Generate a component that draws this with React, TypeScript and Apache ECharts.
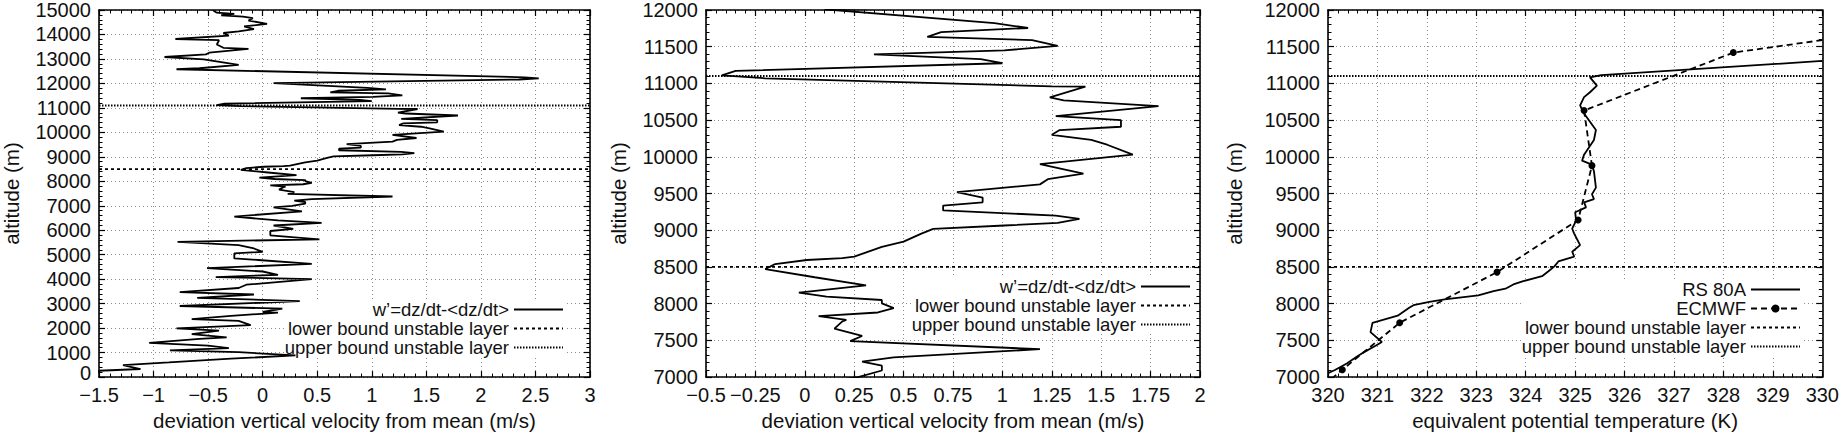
import React, { useEffect, useRef } from "react";
import * as echarts from "echarts";

const FONT = "'Liberation Sans', Arial, Helvetica, sans-serif";
const INK = "#111111";
const W = 1842;
const H = 436;

// ---- series names (legend texts) ----
const W_NAME = "w’=dz/dt-<dz/dt>";
const LOWER_NAME = "lower bound unstable layer";
const UPPER_NAME = "upper bound unstable layer";
const RS_NAME = "RS 80A";
const EC_NAME = "ECMWF";

// ---- deviation of vertical velocity from mean (m/s) vs altitude (m) ----
const wDev = [
  -0.45, -0.45, -0.42, -0.26, -0.38, -0.18, -0.09, -0.13, 0.04, -0.17, -0.08, -0.22, -0.36, -0.31, -0.8, -0.4,
  -0.42, -0.36, -0.13, -0.49, -0.52, -0.9, -0.54, -0.22, -0.58, -0.79, 2.4, 2.53, 2.35, 0.1,
  0.96, 1.13, 0.69, 0.62, 1.15, 1.28, 1.01, 0.35, 0.89, 1.0, -0.35, -0.42, -0.2, 1.25, 1.42, 1.24, 1.31, 1.79,
  1.27, 1.6, 1.6, 1.29, 1.25, 1.45, 1.53, 1.66, 1.19, 1.41, 1.23, 1.19, 0.77, 0.9, 0.9, 0.7, 0.7, 1.27, 1.39,
  1.28, 1.01, 0.65, 0.59, 0.5, 0.39, 0.25, 0.19, 0.01, -0.15, -0.2, 0.05, 0.31, -0.03, 0.11, 0.39, 0.39, 0.45,
  0.37, 0.07, 0.21, 0.19, 0.15, 0.29, 0.23, 1.19, 0.45, 0.29, 0.39, 0.39, 0.27,
  0.1, 0.36, -0.26, 0.14, 0.54, 0.1, 0.28, 0.07, 0.07, 0.52, -0.78, -0.22, -0.08, 0.0, -0.26, -0.26, -0.04,
  0.45, -0.51, 0.0, 0.14, -0.43, 0.45, -0.15, -0.22, -0.76, -0.08, -0.6, 0.34, -0.76, 0.18, 0.0, 0.14, -0.29,
  -0.65, -0.22, -0.11, -0.79, -0.4, -0.65, -0.33, -0.58, -1.04, -0.5, -0.31, -0.85, -0.22, 0.3, -0.29, -0.86,
  -1.28, -1.12, -1.5, -1.5,
];
const wAlt = [
  15000, 14970, 14890, 14840, 14785, 14730, 14665, 14570, 14435, 14330, 14220, 14125, 14060, 13950, 13815, 13765,
  13590, 13455, 13415, 13255, 13185, 13080, 12985, 12755, 12620, 12580, 12250, 12205, 12160, 12010,
  11820, 11755, 11700, 11635, 11590, 11510, 11450, 11395, 11330, 11275, 11170, 11110, 11070, 10960, 10955, 10810,
  10770, 10690, 10555, 10500, 10410, 10365, 10300, 10230, 10165, 10030, 9900, 9770, 9695, 9625, 9520, 9445, 9380,
  9335, 9270, 9200, 9155, 9100, 9065, 9020, 8955, 8845, 8775, 8640, 8620, 8595, 8540, 8470, 8360, 8250, 8150,
  8095, 8050, 8005, 7940, 7880, 7830, 7780, 7760, 7660, 7560, 7490, 7380, 7270, 7210, 7155, 7090, 7000,
  6935, 6775, 6560, 6400, 6305, 6195, 6060, 5970, 5795, 5630, 5525, 5390, 5255, 5120, 5055, 4850, 4785, 4625,
  4450, 4315, 4180, 4085, 4005, 3775, 3640, 3470, 3375, 3240, 3105, 2905, 2795, 2660, 2635, 2500, 2365, 2300,
  2125, 1990, 1895, 1760, 1625, 1560, 1400, 1290, 1185, 1090, 1020, 885, 755, 600, 490, 330, 260, 180,
];

// ---- equivalent potential temperature (K) vs altitude (m) ----
const rsTheta = [
  330.0, 325.53, 325.3, 325.44, 325.3, 325.18, 325.1, 325.18, 325.42, 325.38, 325.18, 325.14, 325.34, 325.38,
  325.42, 325.34, 325.38, 325.18, 325.22, 325.0, 325.02, 324.94, 324.98, 325.1, 324.94, 324.98, 324.66, 324.58,
  324.46, 324.33, 323.95, 323.75, 323.59, 323.35, 323.04, 322.36, 322.05, 321.73, 321.65, 321.41, 320.9, 320.86,
  321.09, 320.98, 320.74, 320.58, 320.38, 320.14, 320.0,
];
const rsAlt = [
  11306, 11113, 11082, 10970, 10880, 10813, 10700, 10590, 10365, 10230, 10030, 9948, 9894, 9805, 9581, 9491, 9424,
  9379, 9312, 9245, 9133, 9021, 8955, 8797, 8708, 8642, 8575, 8508, 8441, 8374, 8307, 8262, 8204, 8172, 8114,
  8060, 8024, 7979, 7948, 7836, 7738, 7612, 7478, 7433, 7344, 7276, 7186, 7097, 7052,
];
const ecTheta = [330.0, 328.2, 325.18, 325.34, 325.06, 323.42, 321.45, 320.29, 320.11];
const ecAlt = [11590, 11420, 10630, 9880, 9140, 8430, 7740, 7100, 7000];
const ecMarked = [false, true, true, true, true, true, true, true, false];

// ---- unstable layer bounds (m) ----
const lowerBoundAlt = 8500;
const upperBoundAlt = 11100;

// ---- axes: [min, max, interval] ----
const p1X = [-1.5, 3, 0.5];
const p1Y = [0, 15000, 1000];
const p2X = [-0.5, 2, 0.25];
const p2Y = [7000, 12000, 500];
const p3X = [320, 330, 1];
const p3Y = [7000, 12000, 500];

const X_NAME_W = "deviation vertical velocity from mean (m/s)";
const X_NAME_T = "equivalent potential temperature (K)";
const Y_NAME = "altitude (m)";

const fmtNum = (v: number) => {
  const r = Math.round(v * 10000) / 10000;
  return (r < 0 ? "\u2212" : "") + String(Math.abs(r));
};
// the lowest altitude label sits in the corner next to the first x label: lift it a little
const fmtAlt = (v: number) => (v === 0 ? "{z|0}" : String(v));

const frameLine = { show: true, onZero: false, lineStyle: { color: "#000", width: 1.6 } };
const tick = { show: true, inside: true, length: 6, lineStyle: { color: "#000", width: 1.2 } };
const minor = { show: true, splitNumber: 5, length: 3.5, lineStyle: { color: "#000", width: 1 } };
const grid = { show: true, lineStyle: { color: "#8c8c8c", width: 1, type: [1, 3] } };
const labelStyle = { fontFamily: FONT, fontSize: 20, lineHeight: 16, color: INK };
const nameStyle = { fontFamily: FONT, fontSize: 20.5, color: INK };

function xPair(gridIndex: number, r: number[], name: string) {
  const common = {
    gridIndex, type: "value", min: r[0], max: r[1], interval: r[2],
    axisLine: frameLine, axisTick: tick, minorTick: minor,
  };
  return [
    {
      ...common, position: "bottom", name, nameLocation: "middle", nameGap: 27, nameTextStyle: nameStyle,
      axisLabel: { ...labelStyle, margin: 10, formatter: fmtNum }, splitLine: grid,
    },
    { ...common, position: "top", axisLabel: { show: false }, splitLine: { show: false } },
  ];
}

function yPair(gridIndex: number, r: number[], nameGap: number) {
  const common = {
    gridIndex, type: "value", min: r[0], max: r[1], interval: r[2],
    axisLine: frameLine, axisTick: tick, minorTick: minor,
  };
  return [
    {
      ...common, position: "left", name: Y_NAME, nameLocation: "middle", nameGap, nameTextStyle: nameStyle,
      axisLabel: {
        ...labelStyle, margin: 8, formatter: fmtAlt,
        rich: { z: { fontFamily: FONT, fontSize: 20, lineHeight: 16, color: INK, padding: [0, 0, 9, 0] } },
      },
      splitLine: grid,
    },
    { ...common, position: "right", axisLabel: { show: false }, splitLine: { show: false } },
  ];
}

const pairs = (xs: number[], ys: number[]) => xs.map((x, i) => [x, ys[i]]);

function boundSeries(axis: number, xr: number[]) {
  return [
    {
      name: LOWER_NAME, type: "line", xAxisIndex: axis, yAxisIndex: axis, symbol: "none",
      data: [[xr[0], lowerBoundAlt], [xr[1], lowerBoundAlt]],
      itemStyle: { color: "#000" },
      lineStyle: { color: "#000", width: 1.8, type: [3, 3] }, z: 3,
    },
    {
      name: UPPER_NAME, type: "line", xAxisIndex: axis, yAxisIndex: axis, symbol: "none",
      data: [[xr[0], upperBoundAlt], [xr[1], upperBoundAlt]],
      itemStyle: { color: "#000" },
      lineStyle: { color: "#000", width: 2, type: [1.5, 1.5] }, z: 3,
    },
  ];
}

const plain = (name: string) => ({ name, itemStyle: { opacity: 0 } });

const legendCommon = {
  orient: "vertical", align: "right", itemWidth: 49, itemHeight: 10, itemGap: 0, padding: 0,
  backgroundColor: "#ffffff", selectedMode: false,
  textStyle: { fontFamily: FONT, fontSize: 18.5, lineHeight: 18.3, color: INK },
};

export default function App() {
  const ref = useRef<HTMLDivElement>(null);
  useEffect(() => {
    if (!ref.current) return;
    const chart = echarts.init(ref.current, undefined, { renderer: "svg" });
    const option = {
      animation: false,
      backgroundColor: "#ffffff",
      textStyle: { fontFamily: FONT },
      grid: [
        { left: 96, top: 10, width: 494, height: 371.5 },
        { left: 706, top: 10, width: 494, height: 371.5 },
        { left: 1328, top: 10, width: 497, height: 371.5 },
      ],
      xAxis: [...xPair(0, p1X, X_NAME_W), ...xPair(1, p2X, X_NAME_W), ...xPair(2, p3X, X_NAME_T)],
      yAxis: [...yPair(0, p1Y, 77), ...yPair(1, p2Y, 77), ...yPair(2, p3Y, 83)],
      legend: [
        { ...legendCommon, data: [plain(W_NAME), plain(LOWER_NAME), plain(UPPER_NAME)], right: W - 564, top: 300 },
        { ...legendCommon, data: [plain(W_NAME), plain(LOWER_NAME), plain(UPPER_NAME)], right: W - 1191, top: 277 },
        {
          ...legendCommon,
          data: [plain(RS_NAME), { name: EC_NAME }, plain(LOWER_NAME), plain(UPPER_NAME)],
          right: W - 1801, top: 280,
        },
      ],
      series: [
        {
          name: W_NAME, type: "line", xAxisIndex: 0, yAxisIndex: 0, symbol: "none",
          data: pairs(wDev, wAlt), itemStyle: { color: "#000" },
          lineStyle: { color: "#000", width: 1.8 }, z: 4,
        },
        ...boundSeries(0, p1X),
        {
          name: W_NAME, type: "line", xAxisIndex: 2, yAxisIndex: 2, symbol: "none",
          data: pairs(wDev, wAlt), itemStyle: { color: "#000" },
          lineStyle: { color: "#000", width: 1.8 }, z: 4,
        },
        ...boundSeries(2, p2X),
        {
          name: RS_NAME, type: "line", xAxisIndex: 4, yAxisIndex: 4, symbol: "none",
          data: pairs(rsTheta, rsAlt), itemStyle: { color: "#000" },
          lineStyle: { color: "#000", width: 1.8 }, z: 4,
        },
        {
          name: EC_NAME, type: "line", xAxisIndex: 4, yAxisIndex: 4, symbol: "circle", symbolSize: 7,
          itemStyle: { color: "#000" },
          data: ecTheta.map((t, i) => (ecMarked[i] ? [t, ecAlt[i]] : { value: [t, ecAlt[i]], symbol: "none" })),
          lineStyle: { color: "#000", width: 1.8, type: [6, 4] }, z: 4,
        },
        ...boundSeries(4, p3X),
      ],
    };
    chart.setOption(option as any);
    return () => chart.dispose();
  }, []);
  return (
    <div
      ref={ref}
      style={{ position: "fixed", left: 0, top: 0, width: W, height: H, background: "#fff" }}
    />
  );
}
